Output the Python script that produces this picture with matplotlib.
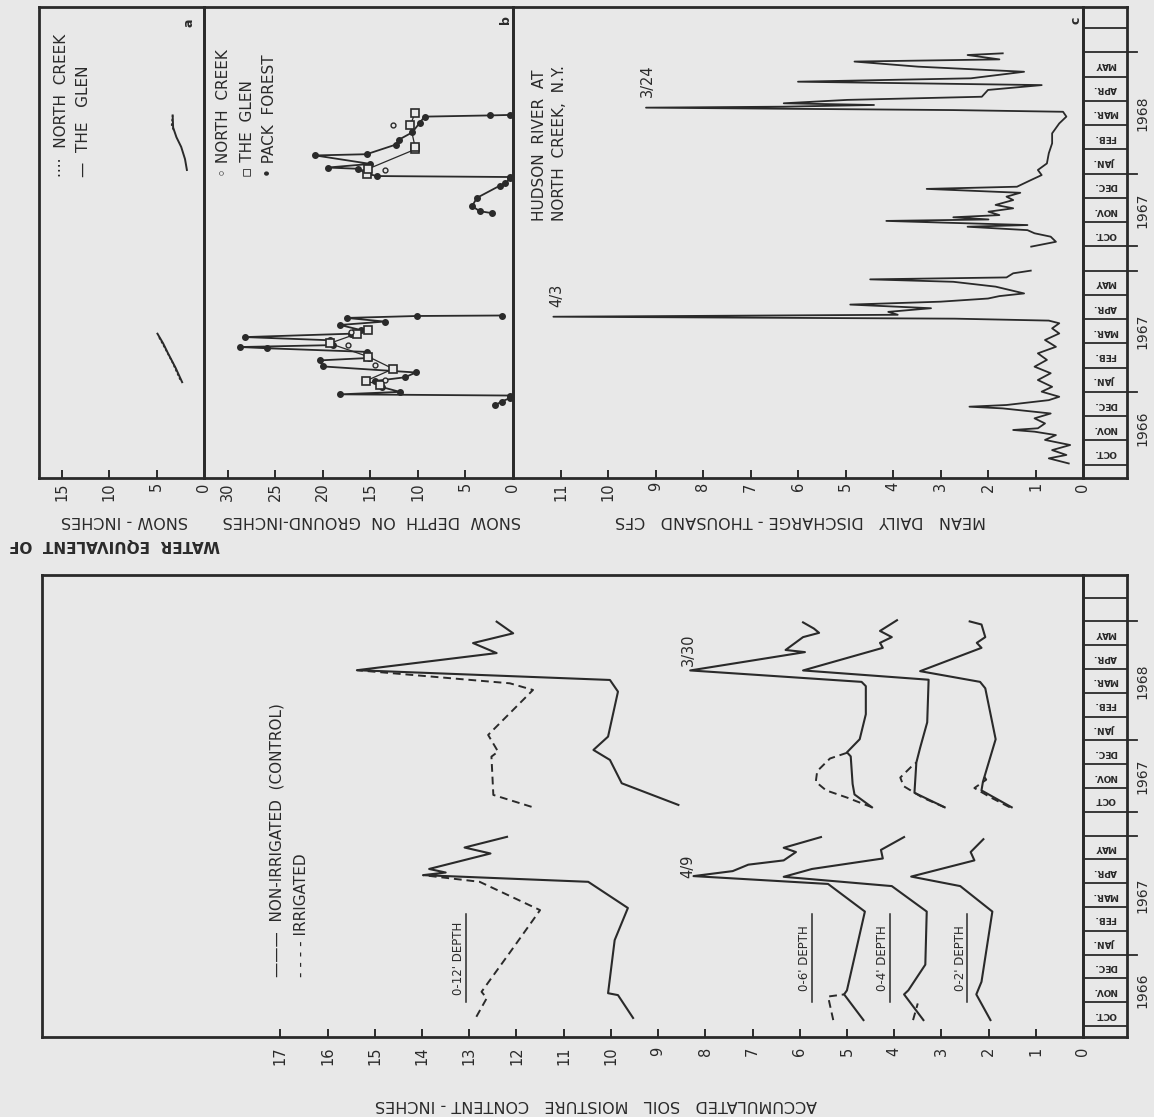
import matplotlib
matplotlib.use('Agg')
import matplotlib.pyplot as plt
from matplotlib.lines import Line2D

# ── Data ──────────────────────────────────────────────
# time axis is in "month cells": Oct 1966 = 0..1, ... May 1967 = 7..8,
# summer gap = 8..9, Oct 1967 = 9..10, ... May 1968 = 16..17
month_pos = [0, 1, 2, 3, 4, 5, 6, 7, 9, 10, 11, 12, 13, 14, 15, 16]
month_names = ['OCT.', 'NOV.', 'DEC.', 'JAN.', 'FEB.', 'MAR.', 'APR.', 'MAY'] * 2
year_pos = [1.5, 5.5, 10.5, 14.5]
year_names = ['1966', '1967', '1967', '1968']
year_ticks = [3, 8, 9, 12, 17]

# (a) water equivalent of snow, inches
swe_nc_67_t = [3.5, 4.2, 4.8, 5.3]
swe_nc_67_v = [2.5, 3.3, 4.1, 4.8]
swe_glen_67_t = [3.4, 4.0, 4.6, 5.0, 5.4]
swe_glen_67_v = [2.3, 3.0, 3.8, 4.3, 4.9]
swe_glen_68_t = [12.15, 12.6, 13.1, 13.5, 13.9, 14.4]
swe_glen_68_v = [1.8, 2.0, 2.4, 2.9, 3.25, 3.3]
swe_nc_68_t = [13.8, 14.0, 14.4]
swe_nc_68_v = [3.2, 3.4, 3.3]

# (b) snow depth on ground, inches
pack_67_t = [2.45, 2.6, 2.75, 2.85, 2.9, 3.0, 3.2, 3.45, 3.6, 3.8, 4.05, 4.3, 4.4, 4.65,
             4.8, 4.85, 4.93, 5.13, 5.26, 5.4, 5.55, 5.76, 5.9, 6.05, 6.13, 6.15]
pack_67_v = [1.9, 1.2, 0.3, 0.3, 18.2, 11.9, 13.8, 14.5, 11.4, 10.2, 20.0, 20.3, 15.1, 15.4,
             25.9, 28.7, 18.9, 19.3, 28.2, 17.0, 16.0, 18.2, 13.5, 17.5, 10.1, 1.2]
pack_68_t = [10.37, 10.45, 10.66, 11.0, 11.5, 11.6, 11.8, 11.86, 11.9, 12.0, 12.2, 12.25,
             12.4, 12.75, 12.8, 13.2, 13.4, 13.7, 14.1, 14.35, 14.4, 14.42]
pack_68_v = [2.2, 3.5, 4.3, 3.8, 1.4, 0.8, 0.3, 0.3, 14.3, 15.4, 16.3, 19.5,
             15.0, 20.8, 15.4, 12.3, 12.0, 10.6, 9.8, 9.3, 2.4, 0.3]
glen_67_t = [3.3, 3.45, 3.95, 4.45, 5.0, 5.4, 5.55]
glen_67_v = [14.0, 15.5, 12.6, 15.2, 19.3, 16.4, 15.2]
glen_68_t = [12.0, 12.2, 13.0, 13.1, 14.0, 14.5]
glen_68_v = [15.4, 15.2, 10.3, 10.3, 10.8, 10.3]
nc_67_t = [3.5, 4.1, 4.93, 5.45]
nc_67_v = [13.5, 14.5, 17.4, 17.0]
nc_68_t = [12.15, 14.0]
nc_68_v = [13.5, 12.6]

# (c) Hudson River at North Creek, mean daily discharge, thousand cfs
q_67_t = [0.05, 0.26, 0.40, 0.60, 0.81, 1.02, 1.22, 1.36, 1.43, 1.50, 1.70, 1.91, 2.11,
          2.32, 2.39, 2.46, 2.66, 2.80, 3.01, 3.21, 3.49, 3.77, 4.04, 4.32, 4.59, 4.86,
          5.14, 5.41, 5.62, 5.83, 5.94, 6.02, 6.10, 6.18, 6.30, 6.45, 6.60, 6.72, 6.85,
          6.95, 7.06, 7.34, 7.54, 7.64, 7.72, 7.89, 8.00]
q_67_v = [0.3, 0.72, 0.35, 0.65, 0.27, 0.80, 0.57, 1.02, 1.47, 0.95, 0.80, 1.02, 0.68,
          1.69, 2.39, 1.61, 0.72, 0.50, 0.87, 0.65, 0.95, 0.68, 1.02, 0.76, 0.95, 0.57,
          0.80, 0.50, 0.65, 0.50, 0.72, 2.7, 11.15, 3.9, 4.1, 3.2, 4.9, 3.0, 2.0,
          1.76, 1.24, 1.84, 2.73, 4.48, 1.61, 1.47, 1.1]
q_68_t = [8.99, 9.19, 9.40, 9.54, 9.67, 9.81, 9.88, 9.98, 10.05, 10.11, 10.20, 10.29,
          10.43, 10.57, 10.71, 10.91, 11.05, 11.21, 11.37, 11.46, 11.74, 11.94, 12.15,
          12.42, 12.84, 13.25, 13.66, 14.07, 14.35, 14.55, 14.62, 14.72, 14.76, 14.83,
          14.90, 15.04, 15.17, 15.45, 15.65, 15.79, 15.93, 16.20, 16.41, 16.62, 16.71,
          16.89, 16.96]
q_68_v = [1.09, 0.57, 0.68, 1.02, 1.17, 2.43, 1.17, 2.95, 4.14, 1.99, 2.73, 1.76,
          1.99, 1.47, 1.84, 1.47, 1.61, 1.32, 3.29, 1.39, 1.09, 0.87, 0.95,
          0.76, 0.72, 0.65, 0.65, 0.50, 0.35, 0.42, 2.73, 9.2, 6.3, 4.4,
          6.3, 4.96, 2.13, 2.0, 0.87, 6.0, 2.36, 1.24, 3.47, 4.81, 1.76,
          2.43, 1.69]

# soil moisture, inches  (n = non-irrigated, i = irrigated)
s12_n_67_t = [0.34, 1.3, 1.38, 3.61, 4.96, 6.06, 6.34, 6.45, 6.6, 6.8, 7.25, 7.5, 7.95]
s12_n_67_v = [9.53, 9.85, 10.06, 9.92, 9.64, 10.48, 13.98, 13.5, 13.85, 13.45, 12.55, 13.1, 12.2]
s12_i_67_t = [0.39, 1.17, 1.44, 3.2, 4.87, 6.06, 6.34]
s12_i_67_v = [12.85, 12.63, 12.74, 12.1, 11.5, 12.78, 13.98]
s12_n_68_t = [9.29, 10.2, 11.18, 11.6, 12.16, 14.05, 14.54, 14.95, 15.67, 16.09, 16.5, 16.99]
s12_n_68_v = [8.57, 9.77, 10.02, 10.37, 10.06, 9.85, 10.02, 15.38, 12.42, 12.92, 12.07, 12.42]
s12_i_68_t = [9.21, 9.71, 11.32, 11.53, 12.23, 14.12, 14.4, 14.95]
s12_i_68_v = [11.68, 12.49, 12.53, 12.39, 12.6, 11.65, 12.14, 15.38]

s6_n_67_t = [0.25, 1.33, 1.5, 4.81, 5.97, 6.3, 6.51, 6.78, 6.96, 7.31, 7.49, 7.94]
s6_n_67_v = [4.65, 5.06, 5.0, 4.62, 5.4, 8.25, 7.42, 7.09, 6.34, 6.08, 6.34, 5.55]
s6_i_67_t = [0.25, 1.24, 1.33]
s6_i_67_v = [5.29, 5.4, 5.06]
s6_n_68_t = [9.19, 9.73, 10.17, 11.33, 11.5, 12.05, 13.1, 14.28, 14.46, 14.94, 15.71,
             15.8, 16.34, 16.52, 16.7, 16.96]
s6_n_68_v = [4.47, 4.84, 4.88, 4.92, 5.0, 4.73, 4.6, 4.6, 4.69, 8.32, 5.89,
             6.3, 5.93, 5.59, 5.7, 5.93]
s6_i_68_t = [9.19, 9.6, 9.9, 10.26, 10.71, 11.24, 11.48]
s6_i_68_v = [4.47, 5.0, 5.44, 5.66, 5.63, 5.36, 5.0]

s4_n_67_t = [0.25, 1.33, 1.5, 2.58, 4.81, 5.88, 6.27, 6.6, 7.04, 7.4, 7.94]
s4_n_67_v = [3.38, 3.79, 3.7, 3.34, 3.31, 4.05, 6.34, 5.74, 4.24, 4.28, 3.79]
s4_i_67_t = [0.25, 0.95]
s4_i_67_v = [3.6, 3.5]
s4_n_68_t = [9.19, 9.8, 11.07, 11.69, 12.76, 14.55, 14.94, 15.89, 16.1, 16.34, 16.6, 17.05]
s4_n_68_v = [2.93, 3.57, 3.53, 3.45, 3.3, 3.27, 5.93, 4.24, 4.3, 4.05, 4.3, 3.94]
s4_i_68_t = [9.19, 9.6, 10.08, 10.44, 10.89, 11.07]
s4_i_68_v = [2.93, 3.4, 3.8, 3.87, 3.64, 3.53]

s2_n_67_t = [0.25, 1.33, 1.86, 4.81, 5.88, 6.28, 6.96, 7.31, 7.85]
s2_n_67_v = [1.96, 2.26, 2.15, 1.92, 2.6, 3.64, 2.3, 2.38, 2.11]
s2_n_68_t = [9.19, 9.9, 10.26, 12.05, 14.19, 14.46, 14.91, 15.89, 16.1, 16.34, 16.87, 17.0]
s2_n_68_v = [1.51, 2.15, 2.12, 1.85, 2.07, 2.18, 3.45, 2.15, 2.25, 2.07, 2.15, 2.4]
s2_i_68_t = [9.19, 9.6, 10.0, 10.35, 10.5]
s2_i_68_v = [1.55, 1.95, 2.3, 2.05, 2.1]

# ── Layout (figure pixels) ────────────────────────────
W, H = 1154, 1117
INK = '#2a2a2a'
PAPER = '#e8e8e8'
plt.rcParams['font.family'] = ['DejaVu Sans']

fig = plt.figure(figsize=(W / 100, H / 100), dpi=100)
fig.patch.set_facecolor(PAPER)


def add_ax(x0, y0, x1, y1):
    ax = fig.add_axes([x0 / W, 1 - y1 / H, (x1 - x0) / W, (y1 - y0) / H])
    ax.set_facecolor('none')
    for sp in ax.spines.values():
        sp.set_linewidth(2.0)
        sp.set_color(INK)
    return ax


def ftext(x, y, s, **kw):
    kw.setdefault('color', INK)
    fig.text(x / W, 1 - y / H, s, **kw)


def fline(xs, ys, **kw):
    fig.add_artist(Line2D([x / W for x in xs], [1 - y / H for y in ys], color=INK, **kw))


TOP_LIM = (-0.55, 18.87)
BOT_LIM = (-0.46, 18.95)

ax_a = add_ax(39, 7, 204, 478)
ax_b = add_ax(204, 7, 513, 478)
ax_c = add_ax(513, 7, 1083, 478)
ax_s = add_ax(42, 575, 1083, 1037)
strip_t = add_ax(1083, 7, 1127, 478)
strip_b = add_ax(1083, 575, 1127, 1037)

for ax, xl, ticks, pad in [(ax_a, 17.37, [15, 10, 5, 0], 3),
                           (ax_b, 32.5, [30, 25, 20, 15, 10, 5, 0], 3),
                           (ax_c, 12.0, list(range(11, -1, -1)), 3),
                           (ax_s, 22.05, list(range(17, -1, -1)), 7)]:
    ax.set_xlim(xl, 0)
    ax.set_ylim(*(BOT_LIM if ax is ax_s else TOP_LIM))
    ax.set_xticks(ticks)
    ax.set_xticklabels([str(t) for t in ticks], rotation=90)
    ax.set_yticks([])
    ax.tick_params(axis='x', direction='in', length=6, width=1.4, pad=pad,
                   labelsize=10.5, colors=INK)

# month strips
for strip, lim in [(strip_t, TOP_LIM), (strip_b, BOT_LIM)]:
    strip.set_xlim(0, 1)
    strip.set_ylim(*lim)
    strip.set_xticks([])
    strip.set_yticks([])
    for k in range(0, 19):
        strip.axhline(k, color=INK, lw=1.3)
    for p, name in zip(month_pos, month_names):
        if strip is strip_b and p == 9:
            name = 'OCT'
        strip.text(0.5, p + 0.5, name, rotation=180, ha='center', va='center',
                   fontsize=6.5, fontweight='bold', color=INK)
    tr = strip.get_yaxis_transform()
    for p in year_ticks:
        strip.plot([1.0, 1.22], [p, p], transform=tr, color=INK, lw=1.3, clip_on=False)
    for p, name in zip(year_pos, year_names):
        strip.text(1.2, p, name, transform=tr, rotation=90, ha='left', va='center',
                   fontsize=10, color=INK)

# ── Series ────────────────────────────────────────────
ax_a.plot(swe_glen_67_v, swe_glen_67_t, color=INK, lw=1.4)
ax_a.plot(swe_nc_67_v, swe_nc_67_t, color=INK, lw=1.2, ls=(0, (1.5, 1.2)))
ax_a.plot(swe_glen_68_v, swe_glen_68_t, color=INK, lw=1.4)
ax_a.plot(swe_nc_68_v, swe_nc_68_t, color=INK, lw=1.2, ls=(0, (1.5, 1.2)))

for v, t in [(pack_67_v, pack_67_t), (pack_68_v, pack_68_t)]:
    ax_b.plot(v, t, color=INK, lw=1.3, marker='o', ms=4, mfc=INK, mec=INK)
for v, t in [(glen_67_v, glen_67_t), (glen_68_v, glen_68_t)]:
    ax_b.plot(v, t, color=INK, lw=0.9, marker='s', ms=5.5, mfc=PAPER, mec=INK, mew=1.2)
for v, t in [(nc_67_v, nc_67_t), (nc_68_v, nc_68_t)]:
    ax_b.plot(v, t, ls='none', marker='o', ms=3.5, mfc=PAPER, mec=INK, mew=1.0)

ax_c.plot(q_67_v, q_67_t, color=INK, lw=1.3)
ax_c.plot(q_68_v, q_68_t, color=INK, lw=1.3)

solid = [(s12_n_67_v, s12_n_67_t), (s12_n_68_v, s12_n_68_t),
         (s6_n_67_v, s6_n_67_t), (s6_n_68_v, s6_n_68_t),
         (s4_n_67_v, s4_n_67_t), (s4_n_68_v, s4_n_68_t),
         (s2_n_67_v, s2_n_67_t), (s2_n_68_v, s2_n_68_t)]
dashed = [(s12_i_67_v, s12_i_67_t), (s12_i_68_v, s12_i_68_t),
          (s6_i_67_v, s6_i_67_t), (s6_i_68_v, s6_i_68_t),
          (s4_i_67_v, s4_i_67_t), (s4_i_68_v, s4_i_68_t),
          (s2_i_68_v, s2_i_68_t)]
for v, t in solid:
    ax_s.plot(v, t, color=INK, lw=1.5)
for v, t in dashed:
    ax_s.plot(v, t, color=INK, lw=1.4, ls=(0, (4, 2.5)))

# ── Text ──────────────────────────────────────────────
lab = dict(rotation=180, ha='center', va='center', fontsize=11.5)
ftext(114, 544, 'WATER  EQUIVALENT  OF', rotation=180, ha='center', va='center',
      fontsize=11, fontweight='semibold')
ftext(124, 520, 'SNOW - INCHES', **lab)
ftext(372, 520, 'SNOW  DEPTH  ON  GROUND-INCHES', **lab)
ftext(800, 520, 'MEAN   DAILY   DISCHARGE - THOUSAND   CFS', **lab)
ftext(596, 1105, 'ACCUMULATED   SOIL   MOISTURE   CONTENT - INCHES', **lab)

leg = dict(rotation=90, ha='center', va='bottom', fontsize=11)
ftext(62, 177, '····  NORTH  CREEK', **leg)
ftext(83, 177, '—  THE   GLEN', **leg)
ftext(223, 177, '◦ NORTH  CREEK', **leg)
ftext(247, 177, '▫ THE  GLEN', **leg)
ftext(270, 177, '• PACK  FOREST', **leg)
ftext(540, 221, 'HUDSON  RIVER  AT', **leg)
ftext(560, 221, 'NORTH  CREEK,  N.Y.', **leg)
ftext(277, 977, '———  NON-IRRIGATED  (CONTROL)', rotation=90, ha='center',
      va='bottom', fontsize=11)
ftext(302, 977, '- - - - IRRIGATED', rotation=90, ha='center', va='bottom', fontsize=11)

ann = dict(rotation=90, ha='center', va='center', fontsize=10.5)
ftext(557, 295, '4/3', **ann)
ftext(647, 81, '3/24', **ann)
ftext(688, 866, '4/9', **ann)
ftext(688, 650, '3/30', **ann)

for x, s in [(459, "0-12' DEPTH"), (805, "0-6' DEPTH"), (883, "0-4' DEPTH"), (960, "0-2' DEPTH")]:
    ftext(x, 958, s, rotation=90, ha='center', va='center', fontsize=8.5)
    fline([x + 7, x + 7], [1002, 914], lw=1.1)

pl = dict(rotation=90, ha='center', va='center', fontsize=9, fontweight='bold')
ftext(189, 23, 'a', **pl)
ftext(505, 20, 'b', **pl)
ftext(1076, 20, 'c', **pl)

fig.savefig('out.png', dpi=100, facecolor=PAPER)
